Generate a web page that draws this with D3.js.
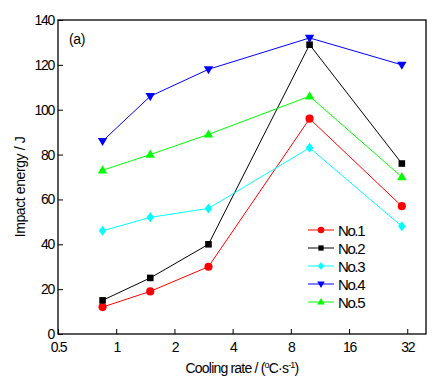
<!DOCTYPE html>
<html><head><meta charset="utf-8">
<script src="https://cdn.jsdelivr.net/npm/d3@7/dist/d3.min.js"></script>
<style>
body{margin:0;background:#fff;}
text{font-family:"Liberation Sans",Arial,sans-serif;fill:#000;}
</style></head>
<body>
<svg id="c" width="443" height="392"></svg>
<script>
const coolingRates = [0.85, 1.5, 3, 10, 30];
const no1 = [12, 19, 30, 96, 57];
const no2 = [15, 25, 40, 129, 76];
const no3 = [46, 52, 56, 83, 48];
const no4 = [86, 106, 118, 132, 120];
const no5 = [73, 80, 89, 106, 70];
const seriesNames = ["No.1", "No.2", "No.3", "No.4", "No.5"];
const xTicks = [0.5, 1, 2, 4, 8, 16, 32];
const yTicks = [0, 20, 40, 60, 80, 100, 120, 140];

const series = [
  {name: seriesNames[0], values: no1, color: "#ff0000", shape: "circle"},
  {name: seriesNames[1], values: no2, color: "#000000", shape: "square"},
  {name: seriesNames[2], values: no3, color: "#00ffff", shape: "diamond"},
  {name: seriesNames[3], values: no4, color: "#0000ff", shape: "down"},
  {name: seriesNames[4], values: no5, color: "#00ff00", shape: "up"}
];

const svg = d3.select("#c");
const L = 58, R = 426, T = 20, B = 334;
const x = d3.scaleLog().base(2).domain([0.5, 40]).range([L, R]);
const y = d3.scaleLinear().domain([0, 140]).range([B, T]);

function shapePath(shape, s) {
  switch (shape) {
    case "circle": return d3.symbol(d3.symbolCircle, 52 * s * s)();
    case "square": { const h = 3.3 * s; return `M${-h},${-h}H${h}V${h}H${-h}Z`; }
    case "diamond": { const w = 3.8 * s, h = 5 * s; return `M0,${-h}L${w},0L0,${h}L${-w},0Z`; }
    case "down": { const w = 4.7 * s, h = 3.2 * s; return `M${-w},${-h}L${w},${-h}L0,${h + 1.8*s}Z`; }
    case "up": { const w = 4.7 * s, h = 3.2 * s; return `M${-w},${h}L${w},${h}L0,${-h - 1.8*s}Z`; }
  }
}

// frame
svg.append("rect").attr("x", L).attr("y", T).attr("width", R - L).attr("height", B - T)
  .attr("fill", "none").attr("stroke", "#000").attr("stroke-width", 1.3);

// x axis
const xAxis = d3.axisBottom(x).tickValues(xTicks).tickSize(-5).tickPadding(10)
  .tickFormat(d => String(d));
const gx = svg.append("g").attr("transform", `translate(0,${B})`).call(xAxis);
gx.select(".domain").remove();
gx.selectAll("line").attr("stroke", "#000");
gx.selectAll("text").attr("font-size", 14).attr("letter-spacing", -1.3)
  .attr("font-family", "Liberation Sans, Arial, sans-serif").attr("fill", "#000").attr("dy", "0.71em").attr("y", 8);

// y axis
const yAxis = d3.axisLeft(y).tickValues(yTicks).tickSize(-5).tickPadding(6);
const gy = svg.append("g").attr("transform", `translate(${L},0)`).call(yAxis);
gy.select(".domain").remove();
gy.selectAll("line").attr("stroke", "#000");
gy.selectAll("text").attr("font-size", 14).attr("letter-spacing", -1.3)
  .attr("font-family", "Liberation Sans, Arial, sans-serif").attr("fill", "#000").attr("x", -4);

// lines and markers
const line = d3.line().x((d, i) => x(coolingRates[i])).y(d => y(d));
series.forEach(s => {
  svg.append("path").datum(s.values).attr("d", line)
    .attr("fill", "none").attr("stroke", s.color).attr("stroke-width", 1);
  svg.append("g").selectAll("path").data(s.values).join("path")
    .attr("transform", (d, i) => `translate(${x(coolingRates[i])},${y(d)})`)
    .attr("d", shapePath(s.shape, 1)).attr("fill", s.color);
});

// legend
const lg = svg.append("g");
series.forEach((s, i) => {
  const yy = 230 + i * 18;
  lg.append("line").attr("x1", 308).attr("x2", 334).attr("y1", yy).attr("y2", yy)
    .attr("stroke", s.color).attr("stroke-width", 1);
  lg.append("path").attr("transform", `translate(321,${yy})`).attr("d", shapePath(s.shape, 0.8)).attr("fill", s.color);
  lg.append("text").attr("x", 338).attr("y", yy + 5.5).attr("font-size", 15).attr("letter-spacing", -1.4).text(s.name);
});

// panel label
svg.append("text").attr("x", 69).attr("y", 44).attr("font-size", 14).attr("letter-spacing", -0.3).text("(a)");

// axis titles
const xt = svg.append("text").attr("x", 242).attr("y", 373).attr("text-anchor", "middle")
  .attr("font-size", 14).attr("letter-spacing", -0.8);
xt.append("tspan").text("Cooling rate / (");
xt.append("tspan").attr("font-size", 9).attr("dy", -5).text("o");
xt.append("tspan").attr("dy", 5).text("C·s");
xt.append("tspan").attr("font-size", 9).attr("dy", -5).text("-1");
xt.append("tspan").attr("dy", 5).text(")");

svg.append("text").attr("transform", "translate(25,187) rotate(-90)").attr("text-anchor", "middle")
  .attr("font-size", 14).attr("letter-spacing", -0.4).text("Impact energy / J");
</script>
</body></html>
